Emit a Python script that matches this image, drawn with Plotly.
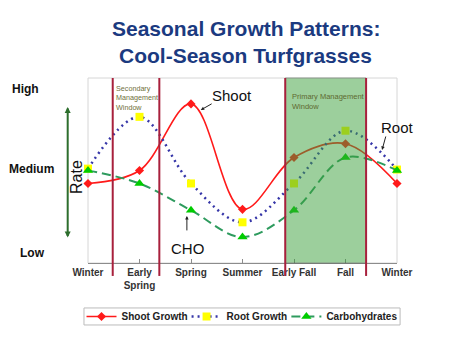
import plotly.graph_objects as go

# ---- data ----
seasons = ["Winter", "Early<br>Spring", "Spring", "Summer", "Early Fall", "Fall", "Winter"]
shoot_growth = [43, 50, 86, 29, 57, 64.5, 43]
root_growth = [51, 79, 43, 22, 43, 71.5, 50.5]
carbohydrates = [50, 43, 28.5, 14, 28.5, 57, 50]
level_labels = ["High", "Medium", "Low"]
level_values = [94, 50.8, 5.4]
secondary_window = [0.48, 1.385]
primary_window = [3.83, 5.40]

x = list(range(len(seasons)))
FONT = "Liberation Sans"

fig = go.Figure()
fig.add_trace(go.Scatter(
    x=x, y=shoot_growth, name="<b>Shoot Growth</b>", mode="lines+markers", legend="legend",
    line=dict(color="#FF1A1A", width=1.6, shape="spline", smoothing=1.0),
    marker=dict(symbol="diamond", size=7, color="#FF1A1A"),
    cliponaxis=False))
fig.add_trace(go.Scatter(
    x=x, y=root_growth, name="<b>Root Growth</b>", mode="lines+markers", legend="legend2",
    line=dict(color="#3636A8", width=2.5, dash="2px,4px", shape="spline", smoothing=1.0),
    marker=dict(symbol="square", size=8, color="#FFFF00"),
    cliponaxis=False))
fig.add_trace(go.Scatter(
    x=x, y=carbohydrates, name="<b>Carbohydrates</b>", mode="lines+markers", legend="legend3",
    line=dict(color="#2E9B5E", width=2, dash="9px,5px", shape="spline", smoothing=1.0),
    marker=dict(symbol="triangle-up", size=9, color="#00CC00"),
    cliponaxis=False))

shapes = []
# plot-area border
shapes.append(dict(type="rect", xref="paper", yref="paper", x0=0, x1=1, y0=0, y1=1,
                   line=dict(color="#D6D6D6", width=1), layer="below"))
# legend border
shapes.append(dict(type="rect", xref="paper", yref="paper", x0=-0.013, x1=1.010, y0=-0.335, y1=-0.243,
                   line=dict(color="#BBBBBB", width=1), layer="below"))
# primary management window
shapes.append(dict(type="rect", xref="x", yref="paper", x0=primary_window[0], x1=primary_window[1],
                   y0=0, y1=1, fillcolor="rgb(60,160,60)", opacity=0.5,
                   line=dict(color="#3C503C", width=1), layer="above"))
for xv in secondary_window + primary_window:
    shapes.append(dict(type="line", xref="x", yref="paper", x0=xv, x1=xv, y0=-0.07, y1=1,
                       line=dict(color="#A8203C", width=2), layer="above"))

C = dict(xanchor="center", yanchor="middle", showarrow=False)
ann = []
# title
ann.append(dict(C, x=0.511, y=1.265, xref="paper", yref="paper",
                text="<b>Seasonal Growth Patterns:</b>",
                font=dict(family=FONT, size=21, color="#1B3A80")))
ann.append(dict(C, x=0.511, y=1.124, xref="paper", yref="paper",
                text="<b>Cool-Season Turfgrasses</b>",
                font=dict(family=FONT, size=21, color="#1B3A80")))
for lab, yv, xv in zip(level_labels, level_values, [-0.202, -0.183, -0.178]):
    ann.append(dict(C, x=xv, y=yv, xref="paper", yref="y", text="<b>%s</b>" % lab,
                    font=dict(family=FONT, size=12, color="#111111")))
ann.append(dict(C, x=-0.0356, y=0.465, xref="paper", yref="paper", text="Rate", textangle=-90,
                font=dict(family=FONT, size=16, color="#111111")))
# Rate double arrow
ann.append(dict(x=-0.0657, y=0.843, xref="paper", yref="paper", ax=0, ay=132,
                text="", showarrow=True, arrowside="end+start", arrowhead=2, arrowsize=0.6,
                arrowwidth=2, arrowcolor="#2D6E2D"))
# callouts
ann.append(dict(C, x=2.80, y=90.8, xref="x", yref="y", text="Shoot",
                font=dict(family=FONT, size=15, color="#111111")))
ann.append(dict(x=2.19, y=82.7, ax=2.43, ay=86.5, xref="x", yref="y", axref="x", ayref="y",
                text="", showarrow=True, arrowhead=2, arrowsize=0.7, arrowwidth=1, arrowcolor="#222222"))
ann.append(dict(C, x=1.003, y=0.735, xref="paper", yref="paper", text="Root",
                font=dict(family=FONT, size=15, color="#111111")))
ann.append(dict(x=5.71, y=61.1, ax=5.79, ay=69.2, xref="x", yref="y", axref="x", ayref="y",
                text="", showarrow=True, arrowhead=2, arrowsize=0.7, arrowwidth=1, arrowcolor="#222222"))
ann.append(dict(C, x=1.94, y=7.6, xref="x", yref="y", text="CHO",
                font=dict(family=FONT, size=15, color="#111111")))
ann.append(dict(x=1.92, y=25.4, ax=1.92, ay=16.8, xref="x", yref="y", axref="x", ayref="y",
                text="", showarrow=True, arrowhead=2, arrowsize=0.7, arrowwidth=1, arrowcolor="#222222"))
# window labels
ann.append(dict(x=0.505, y=97.8, xref="x", yref="y", xanchor="left", yanchor="top", align="left",
                text="Secondary<br>Management<br>Window", showarrow=False,
                font=dict(family=FONT, size=7.2, color="#6F6F3A")))
ann.append(dict(x=3.92, y=93.5, xref="x", yref="y", xanchor="left", yanchor="top", align="left",
                text="Primary Management<br>Window", showarrow=False,
                font=dict(family=FONT, size=7.5, color="#5E6A30")))

leg_common = dict(orientation="h", yanchor="middle", y=-0.289, xanchor="left",
                  bgcolor="rgba(0,0,0,0)", borderwidth=0, itemwidth=30,
                  font=dict(family=FONT, size=10, color="#222222"))

fig.update_layout(
    width=451, height=359,
    margin=dict(l=80, r=62, t=70, b=104),
    paper_bgcolor="white", plot_bgcolor="white",
    xaxis=dict(range=[0, 6], tickvals=x, ticktext=["<b>%s</b>" % s for s in seasons],
               showgrid=False, zeroline=False, showline=True, linecolor="#8C8C8C", linewidth=1,
               ticks="inside", ticklen=4, tickcolor="#8C8C8C",
               tickfont=dict(family=FONT, size=10, color="#333333")),
    yaxis=dict(range=[0, 100], visible=False),
    showlegend=True,
    legend=dict(leg_common, x=-0.021),
    legend2=dict(leg_common, x=0.319),
    legend3=dict(leg_common, x=0.642),
    shapes=shapes, annotations=ann,
)

fig.write_html("out.html")
